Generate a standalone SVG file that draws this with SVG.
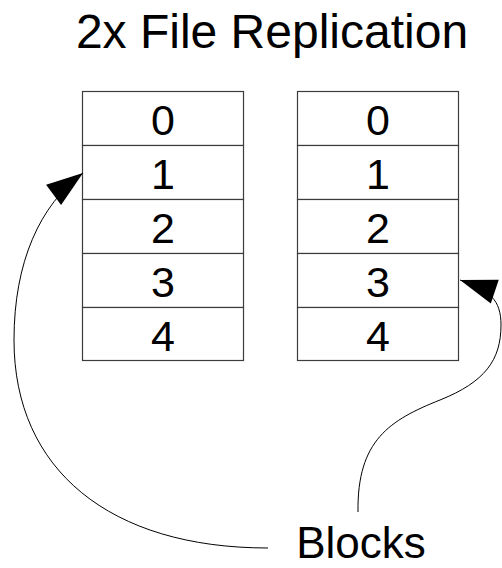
<svg xmlns="http://www.w3.org/2000/svg" width="502" height="568" viewBox="0 0 502 568">
  <style>
    .cell { fill: #ffffff; stroke: #3c3c3c; stroke-width: 1.2; }
    .num { font-family: "Liberation Sans", Arial, sans-serif; font-size: 43px; fill: #000; text-anchor: middle; }
    .title { font-family: "Liberation Sans", Arial, sans-serif; font-size: 48px; fill: #000; text-anchor: middle; }
    .label { font-family: "Liberation Sans", Arial, sans-serif; font-size: 44px; fill: #000; text-anchor: middle; }
    .conn { fill: none; stroke: #000; stroke-width: 1; }
  </style>
  <defs>
    <marker id="arrow" markerUnits="userSpaceOnUse" markerWidth="40" markerHeight="30" viewBox="-34 -12 36 24" refX="0" refY="0" orient="auto" overflow="visible">
      <path d="M0,0 L-33,-11.3 L-33,11.3 Z" fill="#000"/>
    </marker>
  </defs>

  <rect width="502" height="568" fill="#ffffff"/>

  <g id="title">
    <text class="title" x="272" y="48">2x File Replication</text>
  </g>

  <g id="file-a">
    <rect class="cell" x="82.5" y="91.5" width="161" height="54"/>
    <rect class="cell" x="82.5" y="145.5" width="161" height="54"/>
    <rect class="cell" x="82.5" y="199.5" width="161" height="54"/>
    <rect class="cell" x="82.5" y="253.5" width="161" height="54"/>
    <rect class="cell" x="82.5" y="307.5" width="161" height="53"/>
    <text class="num" x="163" y="135">0</text>
    <text class="num" x="163" y="189">1</text>
    <text class="num" x="163" y="243">2</text>
    <text class="num" x="163" y="297">3</text>
    <text class="num" x="163" y="351">4</text>
  </g>

  <g id="file-b">
    <rect class="cell" x="297.5" y="91.5" width="161" height="54"/>
    <rect class="cell" x="297.5" y="145.5" width="161" height="54"/>
    <rect class="cell" x="297.5" y="199.5" width="161" height="54"/>
    <rect class="cell" x="297.5" y="253.5" width="161" height="54"/>
    <rect class="cell" x="297.5" y="307.5" width="161" height="53"/>
    <text class="num" x="378" y="135">0</text>
    <text class="num" x="378" y="189">1</text>
    <text class="num" x="378" y="243">2</text>
    <text class="num" x="378" y="297">3</text>
    <text class="num" x="378" y="351">4</text>
  </g>

  <g id="blocks">
    <text class="label" x="361" y="558">Blocks</text>
  </g>

  <g id="connectors">
    <path class="conn" marker-end="url(#arrow)" d="M268,548 C110,548 14,470 14,340 C14,262 40,205 83,173"/>
    <path class="conn" marker-end="url(#arrow)" d="M358,512 C357,440 390,420 440,400 C485,382 501,360 501,325 C501,300 490,290 460,280"/>
  </g>
</svg>
